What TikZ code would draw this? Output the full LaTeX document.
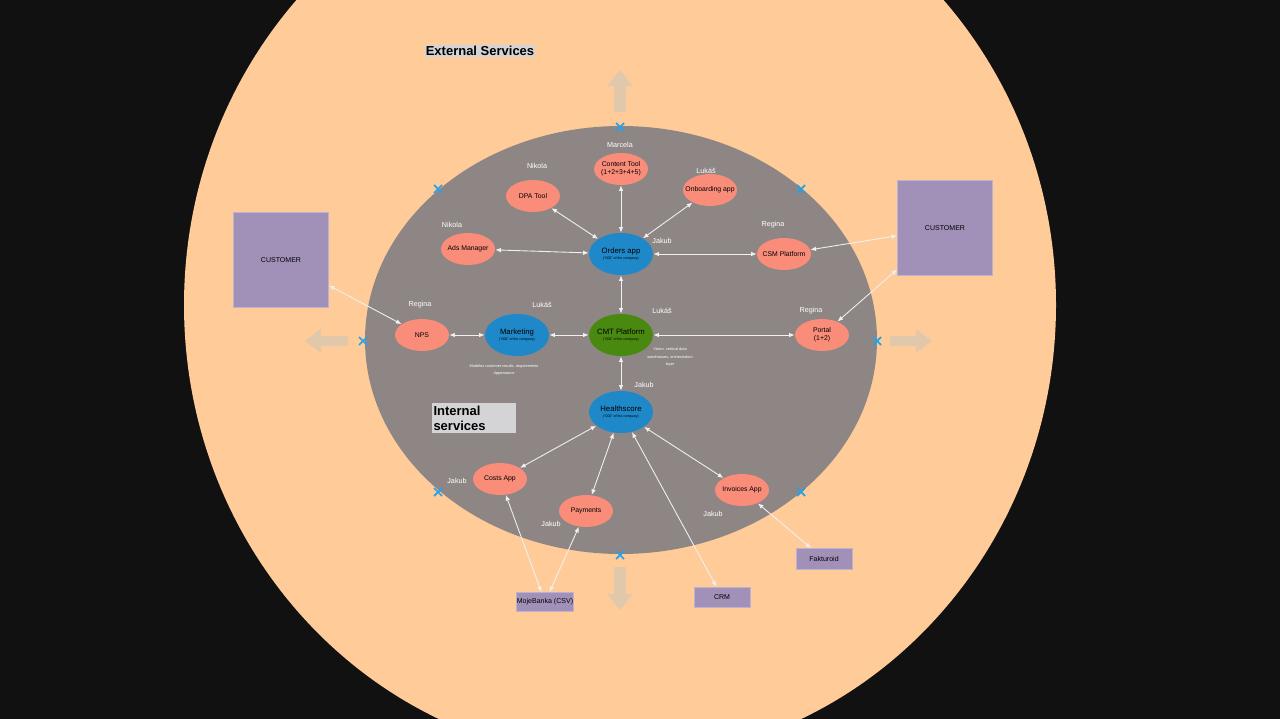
\documentclass[tikz,border=0pt]{standalone}
\usepackage{fontspec}
\setmainfont{Liberation Sans}
\usetikzlibrary{shapes.geometric,arrows.meta}
\definecolor{bgDark}{RGB}{17,17,17}
\definecolor{extPeach}{RGB}{255,204,153}
\definecolor{intGray}{RGB}{142,134,133}
\definecolor{appSalmon}{RGB}{249,141,122}
\definecolor{appBlue}{RGB}{30,136,200}
\definecolor{appGreen}{RGB}{74,137,16}
\definecolor{custPurple}{RGB}{161,145,185}
\definecolor{markBlue}{RGB}{40,160,230}
\definecolor{bigArrow}{RGB}{225,200,170}
\definecolor{tagGray}{RGB}{212,212,214}

\begin{document}
\begin{tikzpicture}[x=0.02cm, y=-0.02cm,
  salm/.style={ellipse, fill=appSalmon, minimum width=1.08cm, minimum height=0.64cm, inner sep=0pt,
    label={[font=\fontsize{3.9}{4.7}\selectfont, align=center]center:#1}},
  core/.style={ellipse, fill=#1, minimum width=1.28cm, minimum height=0.84cm, inner sep=0pt},
  coretext/.style={font=\fontsize{4.4}{5.3}\selectfont, align=center},
  who/.style={text=white, font=\fontsize{4.1}{5}\selectfont},
  cust/.style={rectangle, fill=custPurple, draw=custPurple!70!white, line width=0.4pt,
    font=\fontsize{4}{5}\selectfont, inner sep=0pt},
  link/.style={white!88!gray, line width=0.5pt, {Latex[length=3.2pt,width=2.6pt]}-{Latex[length=3.2pt,width=2.6pt]}},
  xmark/.style={markBlue, line width=1pt},
  note/.style={text=white, font=\fontsize{2.2}{4.2}\selectfont, align=center}]

  % background and the two rings
  \fill[bgDark] (0,0) rectangle (1280,719);
  \useasboundingbox (0,0) rectangle (1280,719);
  \fill[extPeach] (620,305) ellipse [x radius=436, y radius=455];
  \fill[bgDark] (0,719) rectangle (1280,760);
  \fill[intGray] (621,340) ellipse [x radius=256, y radius=214];

  % big outward arrows
  \fill[bigArrow] (620,70) -- (633,86) -- (626,86) -- (626,112) -- (614,112) -- (614,86) -- (607,86) -- cycle;
  \fill[bigArrow] (620,610) -- (633,594) -- (626,594) -- (626,567) -- (614,567) -- (614,594) -- (607,594) -- cycle;
  \fill[bigArrow] (305,341) -- (321,329) -- (321,336) -- (348,336) -- (348,346) -- (321,346) -- (321,353) -- cycle;
  \fill[bigArrow] (932,341) -- (916,329) -- (916,336) -- (890,336) -- (890,346) -- (916,346) -- (916,353) -- cycle;

  % cut marks on the inner ring
  \foreach \px/\py in {620/127, 438/189, 801/189, 363/341, 877/341, 438/492, 801/492, 620/555}
    \draw[xmark] (\px-4,\py-4) -- (\px+4,\py+4) (\px-4,\py+4) -- (\px+4,\py-4);

  % titles
  \node[fill=tagGray, inner sep=0.6pt, font=\fontsize{7.4}{8}\bfseries\selectfont] (ext) at (480,51) {External Services};
  \node[fill=tagGray, minimum width=1.68cm, minimum height=0.6cm, text width=1.62cm, align=left, inner sep=1pt,
    font=\fontsize{7.4}{8.4}\bfseries\selectfont] (int) at (474,418) {Internal\\services};

  % core services
  \node[core=appBlue] (orders) at (621,254) {};
  \node[coretext] at (orders) {Orders app\\[-1.5pt]{\fontsize{2}{2}\selectfont ("000" of the company)}};
  \node[core=appBlue] (mkt) at (517,335) {};
  \node[coretext] at (mkt) {Marketing\\[-1.5pt]{\fontsize{2}{2}\selectfont ("000" of the company)}};
  \node[core=appGreen] (cmt) at (621,335) {};
  \node[coretext] at (cmt) {CMT Platform\\[-1.5pt]{\fontsize{2}{2}\selectfont ("000" of the company)}};
  \node[core=appBlue] (health) at (621,412) {};
  \node[coretext] at (health) {Healthscore\\[-1.5pt]{\fontsize{2}{2}\selectfont ("000" of the company)}};

  % apps
  \node[salm={Content Tool\\(1+2+3+4+5)}] (content) at (621,169) {};
  \node[salm={DPA Tool}] (dpa) at (533,196) {};
  \node[salm={Onboarding app}] (onb) at (710,190) {};
  \node[salm={Ads Manager}] (ads) at (468,249) {};
  \node[salm={CSM Platform}] (csm) at (784,254) {};
  \node[salm={NPS}] (nps) at (422,335) {};
  \node[salm={Portal\\(1+2)}] (portal) at (822,335) {};
  \node[salm={Costs App}] (costs) at (500,479) {};
  \node[salm={Payments}] (pay) at (586,511) {};
  \node[salm={Invoices App}] (inv) at (742,490) {};

  % outside parties
  \node[cust, minimum width=1.9cm, minimum height=1.9cm] (custL) at (281,260) {CUSTOMER};
  \node[cust, minimum width=1.9cm, minimum height=1.9cm] (custR) at (945,228) {CUSTOMER};
  \node[cust, minimum width=1.14cm, minimum height=0.38cm] (bank) at (545,602) {MojeBanka (CSV)};
  \node[cust, minimum width=1.12cm, minimum height=0.4cm] (crm) at (722,597) {CRM};
  \node[cust, minimum width=1.12cm, minimum height=0.42cm] (fakt) at (824,559) {Fakturoid};

  % owners
  \node[who] (wMarcela) at (620,145) {Marcela};
  \node[who] (wNikola1) at (537,166) {Nikola};
  \node[who] (wLukas1) at (706,171) {Lukáš};
  \node[who] (wNikola2) at (452,225) {Nikola};
  \node[who] (wRegina1) at (773,225) {Regina};
  \node[who] (wJakub1) at (662,241) {Jakub};
  \node[who] (wRegina2) at (420,305) {Regina};
  \node[who] (wLukas2) at (542,305) {Lukáš};
  \node[who] (wLukas3) at (662,311) {Lukáš};
  \node[who] (wRegina3) at (811,311) {Regina};
  \node[who] (wJakub2) at (644,385) {Jakub};
  \node[who] (wJakub3) at (457,481) {Jakub};
  \node[who] (wJakub4) at (551,524) {Jakub};
  \node[who] (wJakub5) at (713,514) {Jakub};

  % notes
  \node[note] (noteMkt) at (504,370) {Modelos customer results, requirements\\Appearance};
  \node[note] (noteCmt) at (670,357) {Vision, vertical data\\warehouses, orchestration\\layer};

  % connections
  \draw[link] (content) -- (orders);
  \draw[link] (dpa) -- (orders);
  \draw[link] (onb) -- (orders);
  \draw[link] (ads) -- (orders);
  \draw[link] (csm) -- (orders);
  \draw[link] (orders) -- (cmt);
  \draw[link] (mkt) -- (cmt);
  \draw[link] (nps) -- (mkt);
  \draw[link] (cmt) -- (portal);
  \draw[link] (cmt) -- (health);
  \draw[link] (health) -- (costs);
  \draw[link] (health) -- (pay);
  \draw[link] (health) -- (inv);
  \draw[link] (health) -- (crm);
  \draw[link] (costs) -- (bank);
  \draw[link] (pay) -- (bank);
  \draw[link] (inv) -- (fakt);
  \draw[link] (custL) -- (nps);
  \draw[link] (custR) -- (csm);
  \draw[link] (custR) -- (portal);
\end{tikzpicture}
\end{document}
